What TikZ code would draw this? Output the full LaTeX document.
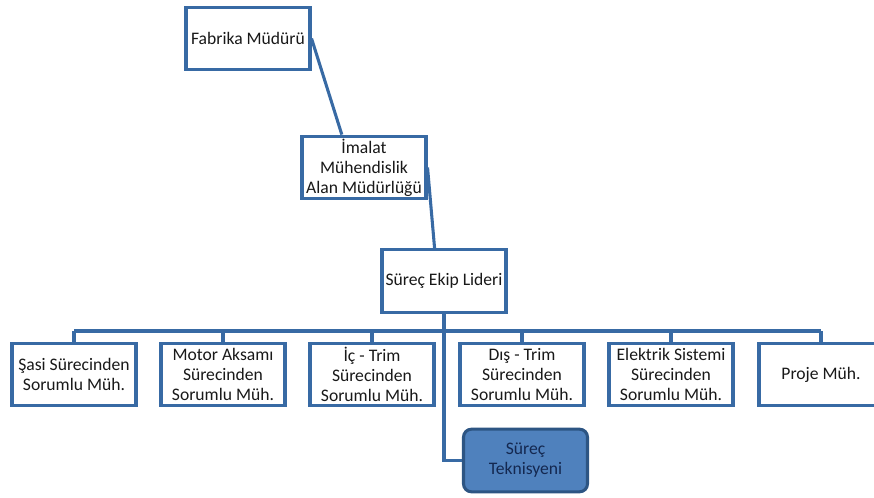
\documentclass[tikz,border=0pt]{standalone}
\usepackage{fontspec}
\setmainfont{Carlito}
\definecolor{hatmavi}{RGB}{56,106,164}
\definecolor{teknavi}{RGB}{79,129,189}
\definecolor{yazirenk}{RGB}{25,25,25}

\begin{document}
\begin{tikzpicture}[x=0.75pt, y=-0.75pt, line width=2.3pt,
  kutu/.style={draw=hatmavi, fill=white, minimum width=93pt, minimum height=47pt,
    align=center, inner sep=1pt, text=yazirenk, font=\fontsize{13.2}{15}\selectfont},
  tekkutu/.style={kutu, fill=teknavi, draw=hatmavi!80!black, rounded corners=6pt,
    text={rgb,255:red,20;green,40;blue,80}},
  hat/.style={draw=hatmavi}]
  \useasboundingbox (0,0) rectangle (874,498);

  \node[kutu] (fab) at (248, 38.5)  {Fabrika Müdürü};
  \node[kutu] (ima) at (364, 167.5) {İmalat\\Mühendislik\\Alan Müdürlüğü};
  \node[kutu] (lid) at (444, 281)   {Süreç Ekip Lideri};
  \coordinate (bus) at (0, 331);

  % alt birimler
  \node[kutu] (sasi)  at (74, 374.5)  {Şasi Sürecinden\\Sorumlu Müh.};
  \node[kutu] (motor) at (223, 374.5) {Motor Aksamı\\Sürecinden\\Sorumlu Müh.};
  \node[kutu] (ic)    at (372, 374.5) {İç - Trim\\Sürecinden\\Sorumlu Müh.};
  \node[kutu] (dis)   at (522, 374.5) {Dış - Trim\\Sürecinden\\Sorumlu Müh.};
  \node[kutu] (elek)  at (671, 374.5) {Elektrik Sistemi\\Sürecinden\\Sorumlu Müh.};
  \node[kutu] (proje) at (821, 374.5) {Proje Müh.};

  \node[tekkutu] (tek) at (525.5, 460.5) {Süreç\\Teknisyeni};

  \draw[hat] (fab.east) -- (ima.124);
  \draw[hat] (ima.east) -- (lid.106);
  \draw[hat] (lid.south) |- (tek.west);
  \draw[hat] (sasi.north |- bus) -- (proje.north |- bus);
  \foreach \b in {sasi, motor, ic, dis, elek, proje}
    \draw[hat] (\b.north) -- (\b.north |- bus);
\end{tikzpicture}
\end{document}
